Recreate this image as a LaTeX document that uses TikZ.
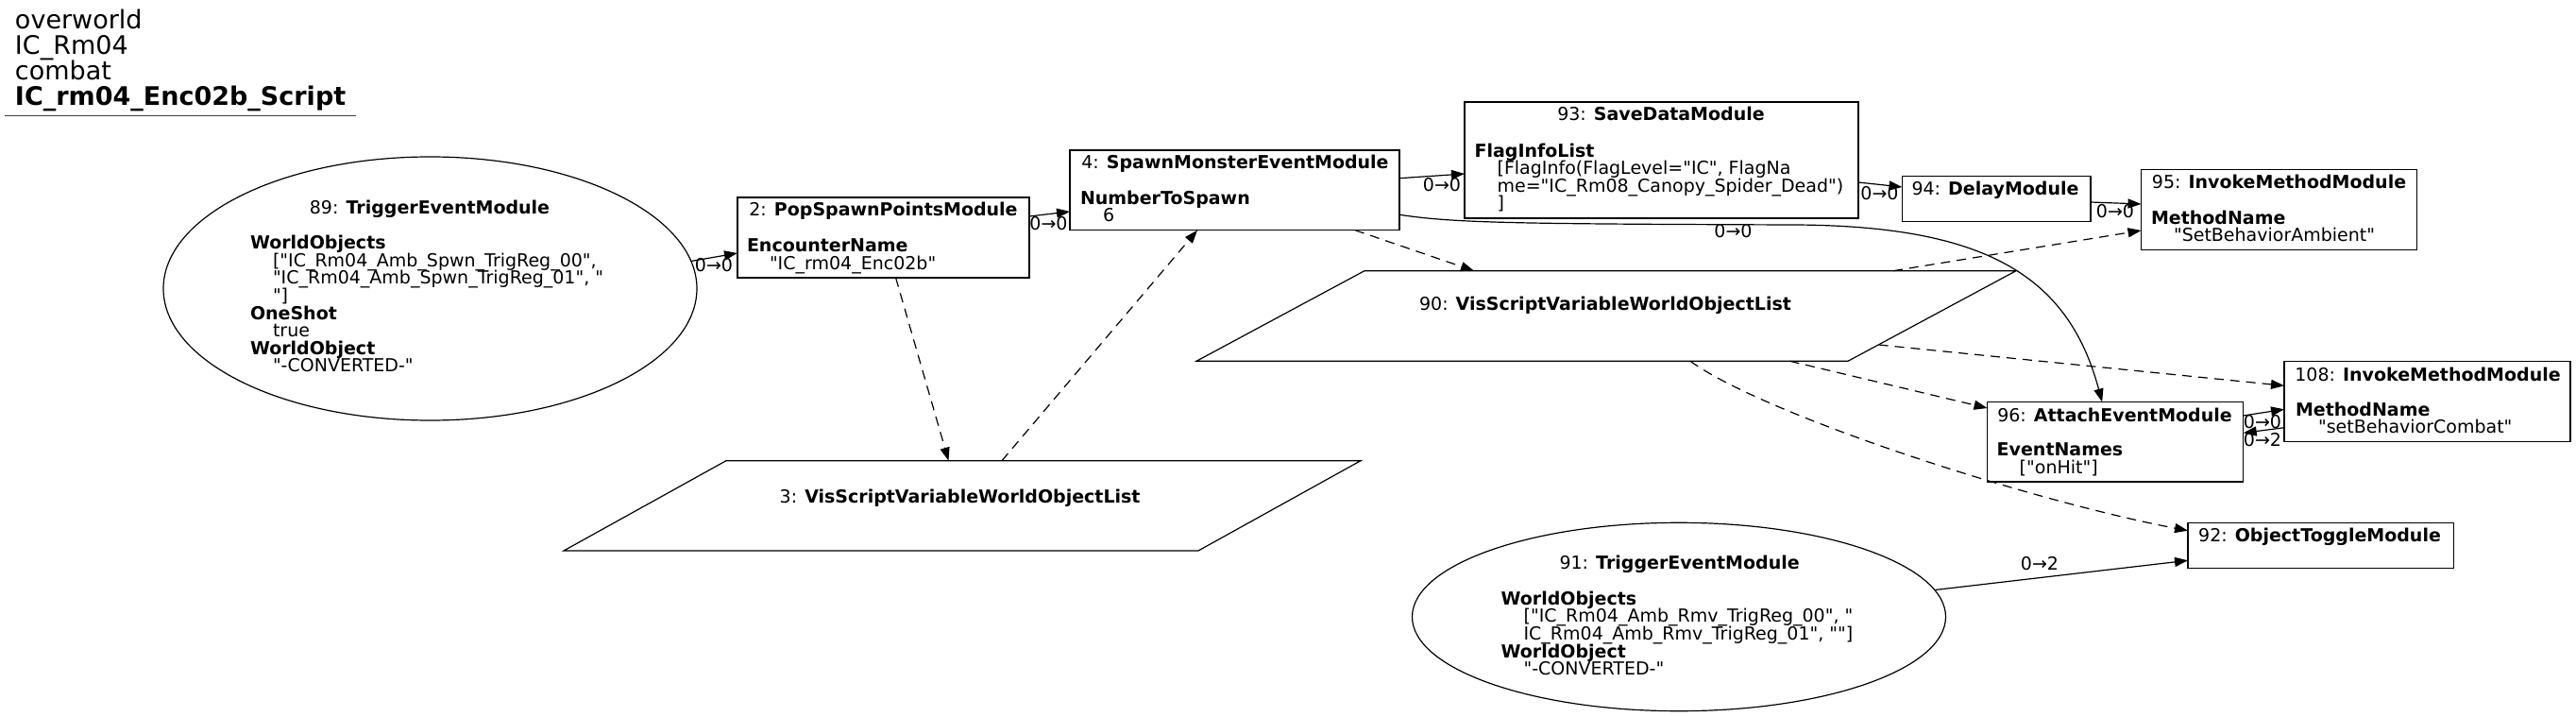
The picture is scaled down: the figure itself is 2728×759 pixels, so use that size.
\documentclass[tikz,border=0pt]{standalone}
\usepackage{fontspec}
\setmainfont{DejaVu Sans}[Ligatures=TeXOff]
\usetikzlibrary{arrows.meta,shapes.geometric}
\lineskiplimit=-100pt
\newcommand{\nodefnt}{\fontsize{19pt}{18.6pt}\selectfont}
\newcommand{\titlefnt}{\fontsize{27pt}{27pt}\selectfont}
\newcommand{\fieldind}{\hspace*{24pt}}
\begin{document}
\begin{tikzpicture}[x=1pt,y=-1pt,
 box/.style={draw, line width=1.2pt, rectangle, inner sep=0pt, outer sep=0pt},
 oval/.style={draw, line width=1.2pt, ellipse, inner sep=0pt, outer sep=0pt},
 ghost/.style={rectangle, inner sep=0pt, outer sep=0pt},
 ttl/.style={inner sep=0pt, outer sep=0pt, anchor=base, font=\nodefnt},
 fld/.style={inner sep=0pt, outer sep=0pt, anchor=north west, align=left, font=\nodefnt},
 elab/.style={inner sep=0pt, outer sep=0pt, anchor=base, font=\nodefnt},
 conn/.style={line width=1.2pt, -{Triangle[length=14pt,width=10pt]}},
 dconn/.style={conn, dash pattern=on 10pt off 7pt},
 shapeline/.style={line width=1.2pt, line join=miter}]
\useasboundingbox (0,0) rectangle (2728,759);
\fill[white] (0,0) rectangle (2728,759);

% title
\node[fld, font=\titlefnt] (title) at (16,10.3) {overworld\\IC\_Rm04\\combat\\\textbf{IC\_rm04\_Enc02b\_Script}};
\coordinate (ulA) at (5,122.5);
\coordinate (ulB) at (377,122.5);
\draw[line width=1.35pt, black!75] (ulA) -- (ulB);

% node 89
\node[oval, minimum width=565pt, minimum height=279pt] (n89) at (455.5,305.5) {};
\node[ttl] (t89) at (455,227) {89: \textbf{TriggerEventModule}};
\node[fld] (f89) at (265,249.3) {\textbf{WorldObjects}\\\fieldind["IC\_Rm04\_Amb\_Spwn\_TrigReg\_00",\\\fieldind"IC\_Rm04\_Amb\_Spwn\_TrigReg\_01", "\\\fieldind"]\\\textbf{OneShot}\\\fieldind true\\\textbf{WorldObject}\\\fieldind"-CONVERTED-"};

% node 2
\node[box, minimum width=309pt, minimum height=85pt] (n2) at (935.5,251.5) {};
\node[ttl] (t2) at (935.5,228.7) {2: \textbf{PopSpawnPointsModule}};
\node[fld] (f2) at (791,252.6) {\textbf{EncounterName}\\\fieldind"IC\_rm04\_Enc02b"};

% node 4
\node[box, minimum width=349pt, minimum height=84.7pt] (n4) at (1307.5,201.35) {};
\node[ttl] (t4) at (1308,178.7) {4: \textbf{SpawnMonsterEventModule}};
\node[fld] (f4) at (1144,201.6) {\textbf{NumberToSpawn}\\\fieldind 6};

% node 93
\node[box, minimum width=417pt, minimum height=123pt] (n93) at (1759.5,169.5) {};
\node[ttl] (t93) at (1759,128) {93: \textbf{SaveDataModule}};
\node[fld] (f93) at (1561.6,151.6) {\textbf{FlagInfoList}\\\fieldind[FlagInfo(FlagLevel="IC", FlagNa\\\fieldind me="IC\_Rm08\_Canopy\_Spider\_Dead")\\\fieldind]};

% node 94
\node[box, minimum width=199.5pt, minimum height=47.6pt] (n94) at (2114.25,210.5) {};
\node[ttl] (t94) at (2113,206.3) {94: \textbf{DelayModule}};

% node 95
\node[box, minimum width=292pt, minimum height=85pt] (n95) at (2413.5,221.8) {};
\node[ttl] (t95) at (2413.5,199.7) {95: \textbf{InvokeMethodModule}};
\node[fld] (f95) at (2278,222.6) {\textbf{MethodName}\\\fieldind"SetBehaviorAmbient"};

% node 108
\node[box, minimum width=303pt, minimum height=85pt] (n108) at (2570.5,425.2) {};
\node[ttl] (t108) at (2571,403) {108: \textbf{InvokeMethodModule}};
\node[fld] (f108) at (2431,425.9) {\textbf{MethodName}\\\fieldind"setBehaviorCombat"};

% node 96
\node[box, minimum width=271.2pt, minimum height=84.5pt] (n96) at (2240.1,467.75) {};
\node[ttl] (t96) at (2239.5,446.3) {96: \textbf{AttachEventModule}};
\node[fld] (f96) at (2114.7,468.6) {\textbf{EventNames}\\\fieldind["onHit"]};

% node 92
\node[box, minimum width=281.5pt, minimum height=48.4pt] (n92) at (2457.75,577.5) {};
\node[ttl] (t92) at (2456.5,573.7) {92: \textbf{ObjectToggleModule}};

% node 91
\node[oval, minimum width=565pt, minimum height=199.4pt] (n91) at (1778,653) {};
\node[ttl] (t91) at (1778.6,602) {91: \textbf{TriggerEventModule}};
\node[fld] (f91) at (1589.6,625.9) {\textbf{WorldObjects}\\\fieldind["IC\_Rm04\_Amb\_Rmv\_TrigReg\_00", "\\\fieldind IC\_Rm04\_Amb\_Rmv\_TrigReg\_01", ""]\\\textbf{WorldObject}\\\fieldind"-CONVERTED-"};

% node 3 (parallelogram)
\node[ghost, minimum width=844pt, minimum height=95.3pt] (n3) at (1019,535.35) {};
\draw[shapeline] ([xshift=172pt]n3.north west) -- (n3.north east) -- ([xshift=-172pt]n3.south east) -- (n3.south west) -- cycle;
\node[ttl] (t3) at (1016.6,532) {3: \textbf{VisScriptVariableWorldObjectList}};

% node 90 (parallelogram)
\node[ghost, minimum width=868pt, minimum height=95.6pt] (n90) at (1701,334.5) {};
\draw[shapeline] ([xshift=178pt]n90.north west) -- (n90.north east) -- ([xshift=-178pt]n90.south east) -- (n90.south west) -- cycle;
\node[ttl] (t90) at (1700,329) {90: \textbf{VisScriptVariableWorldObjectList}};

% solid connectors
\draw[conn] (n89.6) -- ([yshift=-16.5pt]n2.west);
\node[elab] (l1) at (756,287.7) {0→0};
\draw[conn] ([yshift=22.5pt]n2.east) -- ([yshift=-22.65pt]n4.west);
\node[elab] (l2) at (1110.5,243.7) {0→0};
\draw[conn] ([yshift=12.65pt]n4.east) -- ([yshift=-14.5pt]n93.west);
\node[elab] (l3) at (1527,203) {0→0};
\draw[conn] ([yshift=-23.5pt]n93.east) -- ([yshift=12.5pt]n94.west);
\node[elab] (l4) at (1990.5,212) {0→0};
\draw[conn] ([yshift=-3.5pt]n94.east) -- ([yshift=5.8pt]n95.west);
\node[elab] (l5) at (2240,231) {0→0};
\draw[conn] ([yshift=-25.95pt]n4.east) .. controls (1540,236) and (1600,237) .. (1900,238) .. controls (2100,239) and (2190,290) .. ([xshift=-14pt]n96.north);
\node[elab] (l6) at (1835.5,252) {0→0};
\draw[conn] ([yshift=27.75pt]n96.east) -- ([yshift=-8.1pt]n108.west);
\node[elab] (l7) at (2396,453.7) {0→0};
\draw[conn] ([yshift=-27.5pt]n108.west) -- ([yshift=9.45pt]n96.east);
\node[elab] (l8) at (2396,472) {0→2};
\draw[conn] (n91.6) -- ([yshift=-15.8pt]n92.west);
\node[elab] (l9) at (2160,603.7) {0→2};

% dashed connectors
\draw[dconn] ([xshift=13.1pt]n2.south) -- ([xshift=-14.5pt]n3.north);
\draw[dconn] ([xshift=42pt]n3.north) -- ([xshift=-39.5pt]n4.south);
\draw[dconn] ([xshift=127.5pt]n4.south) -- ([xshift=-140pt]n90.north);
\draw[dconn] ([xshift=304pt]n90.north) -- ([yshift=-22.2pt]n95.west);
\draw[dconn] ([xshift=-145.4pt,yshift=17.3pt]n90.south east) -- ([yshift=16.9pt]n108.west);
\draw[dconn] ([xshift=194.5pt]n90.south) -- ([yshift=35.75pt]n96.west);
\draw[dconn] ([xshift=89pt]n90.south) .. controls (1870,440) and (2150,530) .. ([yshift=15.8pt]n92.west);
\end{tikzpicture}
\end{document}
